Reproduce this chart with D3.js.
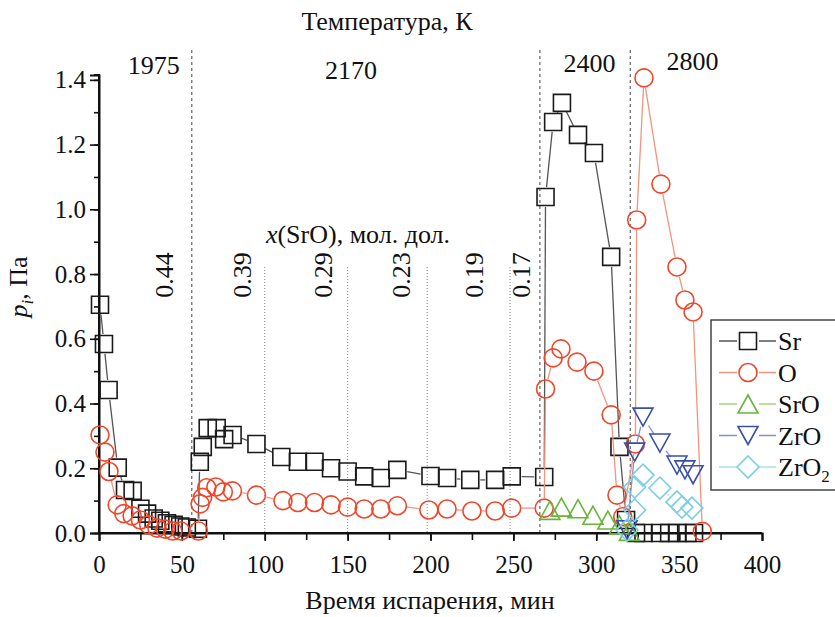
<!DOCTYPE html>
<html>
<head>
<meta charset="utf-8">
<script src="https://cdn.jsdelivr.net/npm/d3@7"></script>
<style>
  body { margin: 0; background: #fff; }
  svg text { font-family: "Liberation Serif", Tinos, "Times New Roman", Times, "DejaVu Serif", serif; fill: #111; }
</style>
</head>
<body>
<svg id="chart" width="835" height="617"></svg>
<script>
// time, min
const srT = [0.6, 3, 5.8, 11.3, 15.7, 20.3, 25, 29, 33, 37, 41, 45, 49, 53, 59.7,
  60.8, 62.6, 65.6, 71, 75.5, 80.6, 95, 110, 120, 130, 140, 150, 160, 170, 180, 200, 210, 224, 239, 249, 268.6,
  269.4, 274, 279.3, 289, 298.6, 309, 314, 318, 324, 328.5, 338.5, 344, 349, 355, 359];
const srP = [0.705, 0.584, 0.442, 0.202, 0.133, 0.13, 0.075, 0.06, 0.045, 0.038, 0.03, 0.025, 0.02, 0.017, 0.013,
  0.22, 0.266, 0.324, 0.324, 0.29, 0.303, 0.275, 0.235, 0.22, 0.22, 0.2, 0.19, 0.175, 0.17, 0.195, 0.176, 0.17, 0.164, 0.164, 0.175, 0.173,
  1.038, 1.27, 1.329, 1.23, 1.174, 0.853, 0.266, 0.04, 0, 0, 0, 0, 0, 0, 0];

const oT = [0.6, 3.6, 6, 11, 15, 20, 25, 30, 35, 40, 44.5, 49.4, 60,
  61, 62.5, 65, 70.5, 75, 80.5, 95, 111, 120, 130, 140, 150, 160, 170, 180, 199, 210, 225, 239, 249, 268.6,
  269.4, 274, 278.7, 288.4, 298.6, 309, 312.5, 316, 323.6, 324.4, 328.8, 339, 348.7, 353.5, 358.4, 364];
const oP = [0.303, 0.25, 0.19, 0.087, 0.06, 0.053, 0.04, 0.025, 0.015, 0.012, 0.006, 0.006, 0.006,
  0.09, 0.11, 0.14, 0.142, 0.127, 0.13, 0.117, 0.1, 0.094, 0.094, 0.087, 0.08, 0.074, 0.074, 0.084, 0.071, 0.074, 0.068, 0.068, 0.077, 0.077,
  0.445, 0.541, 0.569, 0.528, 0.5, 0.365, 0.117, 0.05, 0.275, 0.967, 1.406, 1.078, 0.822, 0.72, 0.683, 0.005];

const srOT = [272, 279, 289, 298, 307, 314, 320];
const srOP = [0.07, 0.08, 0.075, 0.055, 0.04, 0.025, 0.005];

const zrOT = [318.6, 323.2, 328.2, 338.4, 348.7, 353.5, 358.4];
const zrOP = [0.01, 0.25, 0.358, 0.278, 0.21, 0.195, 0.18];

const zrO2T = [318.6, 323.2, 323.2, 328.2, 338.4, 348.7, 351.7, 357.7];
const zrO2P = [0.009, 0.071, 0.142, 0.179, 0.139, 0.096, 0.08, 0.077];

// temperature steps and composition steps
const tempBounds = [56, 266, 320.5];
const tempLabels = ["1975", "2170", "2400", "2800"];
const tempLabelT = [33, 152, 296, 358];
const compBounds = [100, 150, 198, 248];
const compLabels = ["0.44", "0.39", "0.29", "0.23", "0.19", "0.17"];
const compLabelT = [40, 87, 136, 183, 227, 255];

const xTicks = [0, 50, 100, 150, 200, 250, 300, 350, 400];
const yTicks = [0, 0.2, 0.4, 0.6, 0.8, 1.0, 1.2, 1.4];

const FONT = "'Liberation Serif', Tinos, 'Times New Roman', Times, 'DejaVu Serif', serif";
const svg = d3.select("#chart");
const x = d3.scaleLinear().domain([0, 400]).range([99, 762]);
const y = d3.scaleLinear().domain([0, 1.415]).range([533, 75]);

// reference lines
const g0 = svg.append("g");
g0.selectAll(".tb").data(tempBounds).enter().append("line")
  .attr("x1", d => x(d)).attr("x2", d => x(d))
  .attr("y1", 50).attr("y2", y(0))
  .attr("stroke", "#444").attr("stroke-width", 1).attr("stroke-dasharray", "3,3");
g0.selectAll(".cb").data(compBounds).enter().append("line")
  .attr("x1", d => x(d)).attr("x2", d => x(d))
  .attr("y1", 267).attr("y2", y(0))
  .attr("stroke", "#888").attr("stroke-width", 1).attr("stroke-dasharray", "1,2");

// axes
const xAxis = d3.axisBottom(x).tickValues(d3.range(0, 401, 25)).tickSize(7).tickFormat("");
const gx = svg.append("g").attr("transform", `translate(0,${y(0)})`).call(xAxis);
gx.append("g").call(d3.axisBottom(x).tickValues(xTicks).tickSize(8).tickPadding(14).tickFormat(d3.format("d")));
const yAxis = d3.axisLeft(y).tickValues(d3.range(0, 1.41, 0.1)).tickSize(5).tickFormat("");
const gy = svg.append("g").attr("transform", `translate(${x(0)},0)`).call(yAxis);
gy.append("g").call(d3.axisLeft(y).tickValues(yTicks).tickSize(9).tickPadding(4).tickFormat(d3.format(".1f")));
[gx, gy].forEach(g => {
  g.attr("font-family", FONT);
  g.selectAll("g").attr("font-family", FONT);
  g.selectAll(".domain").attr("stroke", "#111").attr("stroke-width", 2);
  g.selectAll("line").attr("stroke", "#111").attr("stroke-width", 1.6);
  g.selectAll("text").style("font-size", "25px").attr("fill", "#111").style("font-family", FONT);
});
gx.select(".domain").attr("d", `M${x(0)},0H${x(400)}`);
gy.select(".domain").attr("d", `M-5,${y(1.415)}H0V${y(0)}`);

// series
const series = [
  { name: "Sr", t: srT, p: srP, shape: "square", stroke: "#1a1a1a", line: "#555" },
  { name: "O", t: oT, p: oP, shape: "circle", stroke: "#f0462a", line: "#f39480" },
  { name: "SrO", t: srOT, p: srOP, shape: "up", stroke: "#6ab43c", line: "#a3d286" },
  { name: "ZrO", t: zrOT, p: zrOP, shape: "down", stroke: "#3a4fa8", line: "#8390cc" },
  { name: "ZrO2", t: zrO2T, p: zrO2P, shape: "diamond", stroke: "#7ccfe2", line: "#acdfec" }
];

function shapePath(s) {
  if (s === "square") return "M-8.5,-8.5H8.5V8.5H-8.5Z";
  if (s === "circle") return d3.arc()({ innerRadius: 0, outerRadius: 9, startAngle: 0, endAngle: 2 * Math.PI });
  if (s === "up") return "M0,-9L10,9L-10,9Z";
  if (s === "down") return "M0,9L10,-9L-10,-9Z";
  return "M0,-11L11,0L0,11L-11,0Z";
}

const gap = 10;
series.forEach(s => {
  const pts = s.t.map((t, i) => [x(t), y(s.p[i])]);
  const g = svg.append("g");
  for (let i = 1; i < pts.length; i++) {
    const [x1, y1] = pts[i - 1], [x2, y2] = pts[i];
    const d = Math.hypot(x2 - x1, y2 - y1);
    if (d <= 2 * gap + 1) continue;
    const ux = (x2 - x1) / d, uy = (y2 - y1) / d;
    g.append("line")
      .attr("x1", x1 + ux * gap).attr("y1", y1 + uy * gap)
      .attr("x2", x2 - ux * gap).attr("y2", y2 - uy * gap)
      .attr("stroke", s.line).attr("stroke-width", 1.3);
  }
  g.selectAll("path").data(pts).enter().append("path")
    .attr("d", shapePath(s.shape))
    .attr("transform", d => `translate(${d[0]},${d[1]})`)
    .attr("fill", "none").attr("stroke", s.stroke).attr("stroke-width", 1.6);
});

// annotations
const txt = (sel) => sel.style("font-family", FONT).style("font-size", "26px");
txt(svg.append("text")).attr("x", 387).attr("y", 30).attr("text-anchor", "middle").text("Температура, К");
const tempY = [74, 79, 72, 70];
tempLabels.forEach((l, i) => {
  txt(svg.append("text")).attr("x", x(tempLabelT[i])).attr("y", tempY[i]).attr("text-anchor", "middle").text(l);
});
compLabels.forEach((l, i) => {
  txt(svg.append("text")).attr("transform", `translate(${x(compLabelT[i]) + 8},275) rotate(-90)`)
    .attr("text-anchor", "middle").text(l);
});
const xs = txt(svg.append("text")).attr("x", 358).attr("y", 243).attr("text-anchor", "middle");
xs.append("tspan").style("font-style", "italic").text("x");
xs.append("tspan").text("(SrO), мол. дол.");

txt(svg.append("text")).attr("x", 430).attr("y", 609).attr("text-anchor", "middle").text("Время испарения, мин");
const yl = txt(svg.append("text")).attr("transform", "translate(27,287) rotate(-90)").attr("text-anchor", "middle");
yl.append("tspan").style("font-style", "italic").text("p");
yl.append("tspan").style("font-style", "italic").style("font-size", "17px").attr("dy", 6).text("i");
yl.append("tspan").attr("dy", -6).text(", Па");

// legend
const lg = svg.append("g");
lg.append("rect").attr("x", 711).attr("y", 320).attr("width", 140).attr("height", 170)
  .attr("fill", "#fff").attr("stroke", "#444").attr("stroke-width", 1.5);
series.forEach((s, i) => {
  const ly = 341 + i * 31.5;
  lg.append("line").attr("x1", 719).attr("x2", 776).attr("y1", ly).attr("y2", ly)
    .attr("stroke", s.line).attr("stroke-width", 1.3);
  lg.append("rect").attr("x", 737).attr("y", ly - 11).attr("width", 22).attr("height", 22).attr("fill", "#fff");
  lg.append("path").attr("d", shapePath(s.shape)).attr("transform", `translate(748,${ly})`)
    .attr("fill", "none").attr("stroke", s.stroke).attr("stroke-width", 1.6);
  const t = txt(lg.append("text")).attr("x", 778).attr("y", ly + 9);
  if (s.name === "ZrO2") {
    t.append("tspan").text("ZrO");
    t.append("tspan").attr("dy", 6).style("font-size", "17px").text("2");
  } else t.text(s.name);
});
</script>
</body>
</html>
